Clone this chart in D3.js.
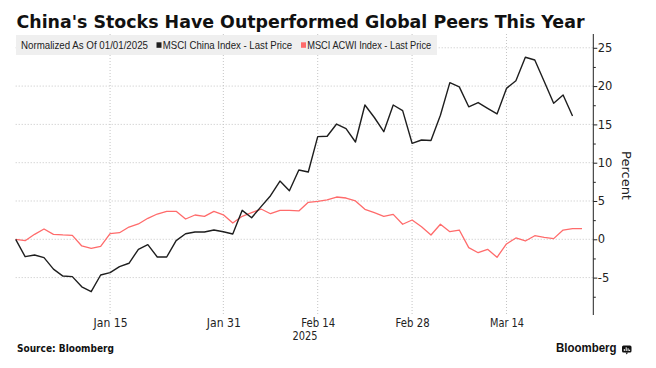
<!DOCTYPE html>
<html>
<head>
<meta charset="utf-8">
<script src="https://cdn.jsdelivr.net/npm/d3@7"></script>
<style>
  html, body { margin: 0; padding: 0; background: #fff; }
  svg { display: block; font-family: "Liberation Sans", Arial, sans-serif; }
</style>
</head>
<body>
<svg id="chart" width="656" height="368"></svg>
<script>
// ---- data ----
const dates = [
  "2025-01-01","2025-01-02","2025-01-03","2025-01-06","2025-01-07","2025-01-08","2025-01-09","2025-01-10",
  "2025-01-13","2025-01-14","2025-01-15","2025-01-16","2025-01-17","2025-01-20","2025-01-21","2025-01-22",
  "2025-01-23","2025-01-24","2025-01-27","2025-01-28","2025-01-29","2025-01-30","2025-01-31",
  "2025-02-03","2025-02-04","2025-02-05","2025-02-06","2025-02-07","2025-02-10","2025-02-11","2025-02-12",
  "2025-02-13","2025-02-14","2025-02-17","2025-02-18","2025-02-19","2025-02-20","2025-02-21","2025-02-24",
  "2025-02-25","2025-02-26","2025-02-27","2025-02-28",
  "2025-03-03","2025-03-04","2025-03-05","2025-03-06","2025-03-07","2025-03-10","2025-03-11","2025-03-12",
  "2025-03-13","2025-03-14","2025-03-17","2025-03-18","2025-03-19","2025-03-20","2025-03-21","2025-03-24",
  "2025-03-25","2025-03-26"
];
const chinaValues = [
  0, -2.27, -2.05, -2.4, -3.9, -4.8, -4.87, -6.2, -6.84, -4.66,
  -4.36, -3.57, -3.13, -1.31, -0.7, -2.31, -2.31, -0.18, 0.73, 0.95,
  0.95, 1.21, 0.99, 0.69, 3.78, 2.82, 4.26, 5.69, 7.6, 6.34,
  9.05, 8.79, 13.4, 13.45, 15.05, 14.44, 12.7, 17.53, 15.9, 14.05,
  17.53, 16.8, 12.53, 12.96, 12.9, 16.2, 20.45, 19.9, 17.3, 17.85,
  17.1, 16.36, 19.7, 20.7, 23.76, 23.4, 20.6, 17.75, 18.84, 16.1
];
const acwiValues = [
  0, -0.18, 0.65, 1.34, 0.65, 0.57, 0.52, -0.87, -1.18, -0.91,
  0.73, 0.86, 1.6, 2.0, 2.74, 3.3, 3.65, 3.65, 2.65, 3.17,
  3.0, 3.65, 3.2, 2.13, 3.0, 3.47, 3.95, 3.34, 3.78, 3.78,
  3.7, 4.83, 4.95, 5.15, 5.52, 5.39, 5.0, 3.91, 3.47, 3.0,
  3.26, 1.96, 2.52, 1.65, 0.56, 1.96, 0.99, 1.21, -1.09, -1.75,
  -1.31, -2.35, -0.61, 0.17, -0.22, 0.47, 0.26, 0.09, 1.21, 1.38, 1.38
];
const xTickDates = ["2025-01-15","2025-01-31","2025-02-14","2025-02-28","2025-03-14"];
const xTickLabels = ["Jan 15","Jan 31","Feb 14","Feb 28","Mar 14"];
const yTicks = [-5, 0, 5, 10, 15, 20, 25];
const yMinorTicks = [-7.5, -2.5, 2.5, 7.5, 12.5, 17.5, 22.5];
const seriesNames = ["MSCI China Index - Last Price", "MSCI ACWI Index - Last Price"];
const seriesColors = ["#1e1e1e", "#ff6b6b"];

// ---- layout ----
const svg = d3.select("#chart");
const plotL = 15.7, plotR = 593.3, plotT = 34, plotB = 310;

const x = d3.scaleLinear().domain([0, 61.2]).range([plotL, plotR]);
const y = d3.scaleLinear().domain([-9.23, 26.8]).range([plotB, plotT]);

const tickIdx = xTickDates.map(d => dates.indexOf(d));

// gridlines
const grid = svg.append("g");
grid.selectAll("line.h").data(yTicks).join("line")
  .attr("x1", plotL).attr("x2", plotR)
  .attr("y1", d => y(d)).attr("y2", d => y(d))
  .attr("stroke", "#c4c4c4").attr("stroke-width", 1).attr("stroke-dasharray", "1,2");
grid.selectAll("line.v").data(tickIdx).join("line")
  .attr("x1", d => x(d)).attr("x2", d => x(d))
  .attr("y1", plotT).attr("y2", 315)
  .attr("stroke", "#c4c4c4").attr("stroke-width", 1).attr("stroke-dasharray", "1,2");

// lines
const line = d3.line().x((d, i) => x(i)).y(d => y(d));
svg.append("path").datum(acwiValues).attr("d", line)
  .attr("fill", "none").attr("stroke", seriesColors[1]).attr("stroke-width", 1.3).attr("stroke-linejoin", "round");
svg.append("path").datum(chinaValues).attr("d", line)
  .attr("fill", "none").attr("stroke", seriesColors[0]).attr("stroke-width", 1.4).attr("stroke-linejoin", "round");

// right axis
const yAxis = d3.axisRight(y).tickValues(yTicks).tickSize(4).tickPadding(1)
  .tickFormat(d => d < 0 ? "-" + Math.abs(d) : d);
const ya = svg.append("g").attr("transform", `translate(${plotR},0)`).call(yAxis);
ya.select(".domain").remove();
ya.selectAll(".tick line").attr("stroke", "#222");
ya.selectAll(".tick text").attr("fill", "#222").style("font-size", "11.5px")
  .style("font-family", "'DejaVu Sans', sans-serif").attr("x", 4.5);
const yMinor = svg.append("g").attr("transform", `translate(${plotR},0)`)
  .call(d3.axisRight(y).tickValues(yMinorTicks).tickSize(2.5).tickFormat(""));
yMinor.select(".domain").remove();
yMinor.selectAll(".tick line").attr("stroke", "#222");
svg.append("line").attr("x1", plotR).attr("x2", plotR).attr("y1", plotT).attr("y2", 315)
  .attr("stroke", "#222").attr("stroke-width", 1);

svg.append("text")
  .attr("transform", `translate(621.5,175.5) rotate(90)`)
  .attr("text-anchor", "middle")
  .style("font-size", "13px").style("font-family", "'DejaVu Sans', sans-serif")
  .attr("fill", "#222").text("Percent");

// bottom axis labels
const xAxis = d3.axisBottom(x).tickValues(tickIdx).tickSize(0).tickPadding(0)
  .tickFormat((d, i) => xTickLabels[i]);
const xa = svg.append("g").call(xAxis);
xa.select(".domain").remove();
xa.selectAll(".tick text").attr("y", 327).attr("dy", 0).attr("fill", "#222")
  .style("font-size", "11.5px").style("font-family", "'DejaVu Sans', sans-serif")
  .attr("textLength", 34).attr("lengthAdjust", "spacingAndGlyphs");
svg.append("text").attr("x", 305).attr("y", 339.5).attr("text-anchor", "middle")
  .style("font-size", "11.5px").style("font-family", "'DejaVu Sans', sans-serif")
  .attr("fill", "#222").attr("textLength", 25).attr("lengthAdjust", "spacingAndGlyphs").text("2025");

// title
svg.append("text").attr("x", 16.5).attr("y", 27.7)
  .style("font-size", "18.5px").style("font-weight", "bold")
  .style("font-family", "'DejaVu Sans', sans-serif")
  .attr("fill", "#111").attr("textLength", 568).attr("lengthAdjust", "spacingAndGlyphs")
  .text("China's Stocks Have Outperformed Global Peers This Year");

// legend
svg.append("rect").attr("x", 16).attr("y", 35).attr("width", 421).attr("height", 20).attr("fill", "#efefef");
const legFont = "'Liberation Sans', Arial, sans-serif";
svg.append("text").attr("x", 21).attr("y", 48.5).style("font-size", "10.5px").style("font-family", legFont)
  .attr("fill", "#222").attr("textLength", 127).attr("lengthAdjust", "spacingAndGlyphs")
  .text("Normalized As Of 01/01/2025");
const legX = [156.5, 301];
const legW = [129.5, 124];
seriesNames.forEach((n, i) => {
  svg.append("rect").attr("x", legX[i]).attr("y", 42.3).attr("width", 5).attr("height", 5.5).attr("fill", seriesColors[i]);
  svg.append("text").attr("x", legX[i] + 6.2).attr("y", 48.5).style("font-size", "10.5px").style("font-family", legFont)
    .attr("fill", "#222").attr("textLength", legW[i]).attr("lengthAdjust", "spacingAndGlyphs").text(n);
});

// footer
svg.append("text").attr("x", 17).attr("y", 352.3).style("font-size", "10px").style("font-weight", "bold")
  .style("font-family", "'DejaVu Sans', sans-serif").attr("fill", "#111")
  .attr("textLength", 97).attr("lengthAdjust", "spacingAndGlyphs").text("Source: Bloomberg");
svg.append("text").attr("x", 556).attr("y", 352.3).style("font-size", "13px").style("font-weight", "600")
  .style("font-family", "'Liberation Sans', Arial, sans-serif").attr("fill", "#111")
  .attr("textLength", 60.5).attr("lengthAdjust", "spacingAndGlyphs").text("Bloomberg");
const logo = svg.append("g").attr("transform", "translate(622,345.5)");
logo.append("rect").attr("width", 9.5).attr("height", 7).attr("rx", 1.5).attr("fill", "#111");
logo.append("path").attr("d", "M3.5,7 L4.75,9 L6,7 Z").attr("fill", "#111");
[[2.3, 3.5, 5.5], [4.2, 1.8, 5.5], [6.1, 2.8, 5.5], [7.6, 4.2, 5.5]].forEach(b => {
  logo.append("line").attr("x1", b[0]).attr("x2", b[0]).attr("y1", b[1]).attr("y2", b[2])
    .attr("stroke", "#fff").attr("stroke-width", 1);
});
</script>
</body>
</html>
